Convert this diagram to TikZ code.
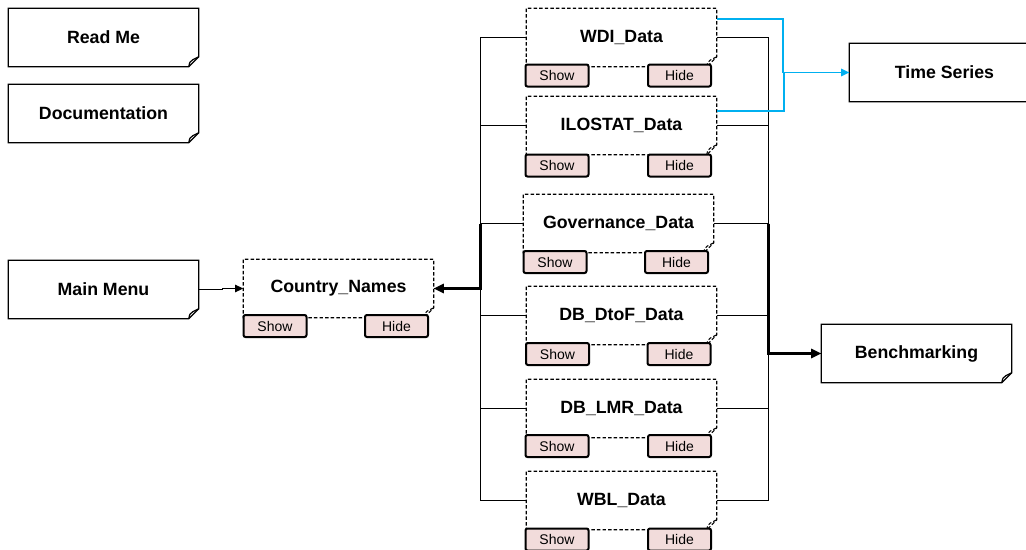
\documentclass[tikz,border=0pt]{standalone}
\usepackage{fontspec}
\setmainfont{Liberation Sans}
\usetikzlibrary{arrows.meta,calc}
\definecolor{btnpink}{HTML}{F2DCDB}
\definecolor{tsblue}{HTML}{00B0F0}
\newcommand\notefold[2]{%
  \draw[#2] ($(#1.south east)+(-10,0)$) -- (#1.south west) -- (#1.north west) -- (#1.north east) -- ($(#1.south east)+(0,-10)$) -- cycle;
  \draw[#2] ($(#1.south east)+(-10,0)$) .. controls ($(#1.south east)+(-9,-5)$) .. ($(#1.south east)+(-6,-7)$) -- ($(#1.south east)+(0,-10)$);
}
\tikzset{
  x=0.75pt, y=-0.75pt,
  box/.style={inner sep=0pt, minimum width=142.5pt, minimum height=43.5pt, font=\fontsize{13.3}{15}\selectfont\bfseries},
  btn/.style={draw, line width=1.5pt, rounded corners=1.5pt, fill=btnpink, inner sep=0pt, minimum width=47.25pt, minimum height=16.5pt, font=\fontsize{10.5}{12}\selectfont},
  solidline/.style={line width=0.9pt},
  dashline/.style={line width=0.8pt, dash pattern=on 2.6pt off 1.6pt},
  link/.style={line width=0.75pt},
  mainlink/.style={line width=1.6pt},
  thintip/.style={-{Triangle[length=6pt,width=5.5pt]}},
  bigtip/.style={-{Triangle[length=7.5pt,width=7pt]}},
  tslink/.style={line width=1.1pt, draw=tsblue},
}
\begin{document}
\begin{tikzpicture}
\useasboundingbox (0,0) rectangle (1026,550);
\clip (0,0) rectangle (1026,550);
% left notes
\node[box] (rm) at (103.5,37.5) {Read Me};
\node[box] (doc) at (103.5,113.5) {Documentation};
\node[box] (mm) at (103.5,289.5) {Main Menu};
% country names
\node[box] (cn) at (338.5,288.5) {Country\_Names};
% data boxes
\node[box] (wdi) at (621.5,37.5) {WDI\_Data};
\node[box] (ilo) at (621.5,125.5) {ILOSTAT\_Data};
\node[box] (gov) at (618.5,223.5) {Governance\_Data};
\node[box] (dtof) at (621.5,315.5) {DB\_DtoF\_Data};
\node[box] (lmr) at (621.5,408.5) {DB\_LMR\_Data};
\node[box] (wbl) at (621.5,500.5) {WBL\_Data};
% right notes
\node[box] (ts) at (944.5,72.5) {Time Series};
\node[box] (bench) at (916.5,353.5) {Benchmarking};

\foreach \n in {rm,doc,mm,ts,bench} {\notefold{\n}{solidline}}
\foreach \n in {cn,wdi,ilo,gov,dtof,lmr,wbl} {\notefold{\n}{dashline}}

% buttons
\node[btn] (cnS) at (275,326) {Show};
\node[btn] (cnH) at (396.5,326) {Hide};
\node[btn] (wdiS) at (557,75.5) {Show};
\node[btn] (wdiH) at (679.5,75.5) {Hide};
\node[btn] (iloS) at (557,165.5) {Show};
\node[btn] (iloH) at (679.5,165.5) {Hide};
\node[btn] (govS) at (555,262) {Show};
\node[btn] (govH) at (676.5,262) {Hide};
\node[btn] (dtofS) at (557.5,354) {Show};
\node[btn] (dtofH) at (679,354) {Hide};
\node[btn] (lmrS) at (557,446) {Show};
\node[btn] (lmrH) at (679.5,446) {Hide};
\node[btn] (wblS) at (557,539.5) {Show};
\node[btn] (wblH) at (679.5,539.5) {Hide};

% connectors
\coordinate (busL) at (480.5,0);
\coordinate (busR) at (768.5,0);
\foreach \n in {wdi,ilo,dtof,lmr,wbl} {
  \draw[link] (\n.west) -- (\n.west -| busL) |- (cn.east);
  \draw[link] (\n.east) -- (\n.east -| busR) |- (bench.west);
}
\draw[link] (gov.west) -- (gov.west -| busL);
\draw[link] (gov.east) -- (gov.east -| busR);
\draw[mainlink, bigtip] (gov.west -| busL) |- (cn.east);
\draw[mainlink, bigtip] (gov.east -| busR) |- (bench.west);

\draw[link, thintip] (mm.east) -- ++(24,0) |- (cn.west);

\draw[tslink, thintip] ($(wdi.east)+(0,-18.5)$) -- ++(66,0) |- (ts.west);
\draw[tslink] ($(ilo.east)+(0,-14.5)$) -- ++(67,0) |- (ts.west);
\end{tikzpicture}
\end{document}
